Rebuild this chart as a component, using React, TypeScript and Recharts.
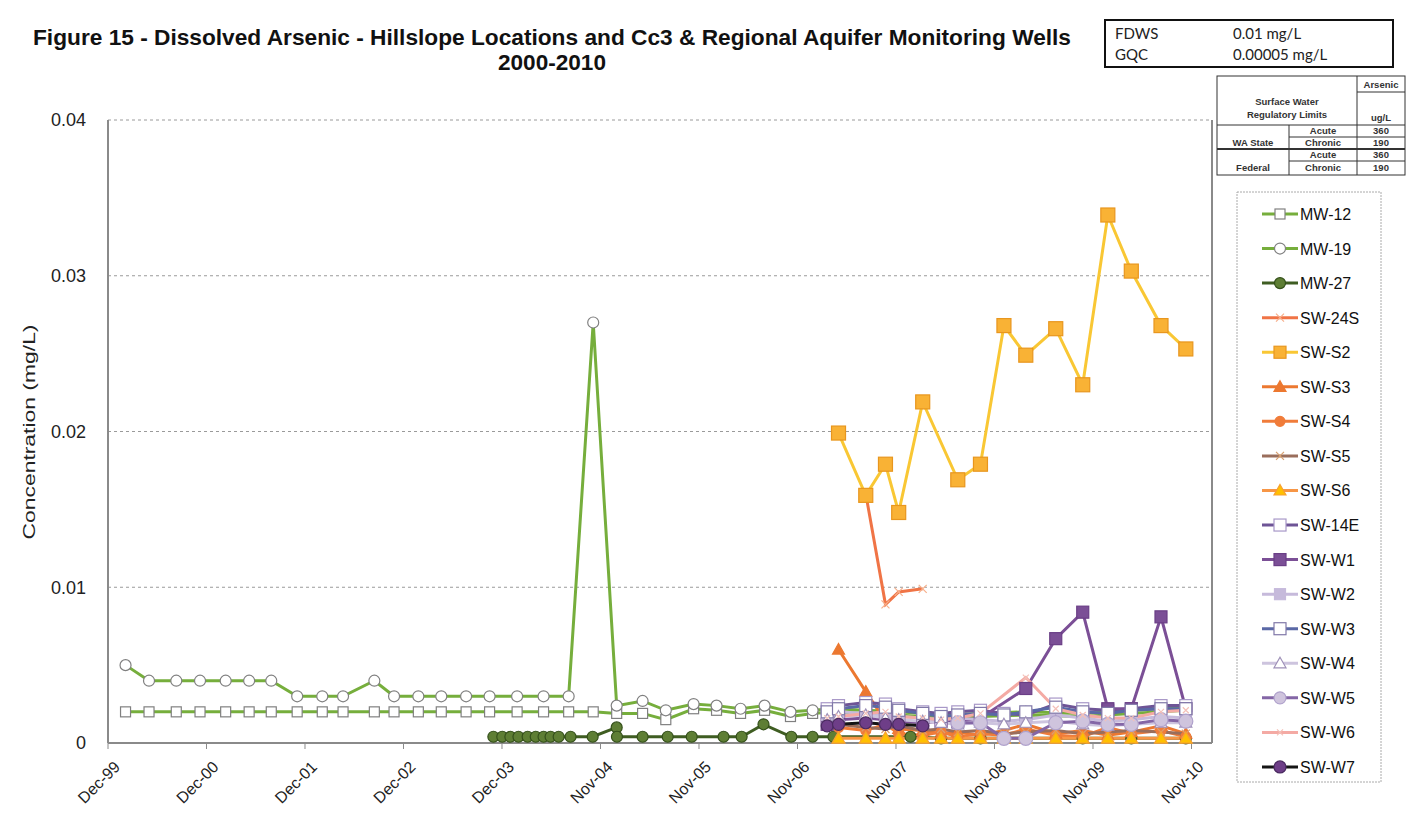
import React from "react";
import { LineChart, Line, XAxis, YAxis, CartesianGrid, ReferenceLine } from "recharts";

// date axis: day 0 = 1999-12-02, major unit 365 days
const START = Date.UTC(1999, 11, 2);
const day = (s: string) => {
  const [y, m, d] = s.split("-").map(Number);
  return (Date.UTC(y, m - 1, d) - START) / 86400000;
};

const X_LABELS = ["Dec-99", "Dec-00", "Dec-01", "Dec-02", "Dec-03", "Nov-04", "Nov-05", "Nov-06", "Nov-07", "Nov-08", "Nov-09", "Nov-10"];
const X_TICKS = X_LABELS.map((_, i) => i * 365);
const Y_TICKS = [0, 0.01, 0.02, 0.03, 0.04];

const MW_DATES = [
  "2000-02-05", "2000-05-02", "2000-08-11", "2000-11-07", "2001-02-10", "2001-05-08", "2001-07-29", "2001-11-02",
  "2002-02-03", "2002-04-21", "2002-08-15", "2002-10-27", "2003-01-25", "2003-04-20", "2003-07-21", "2003-10-16",
  "2004-01-26", "2004-05-03", "2004-08-04", "2004-11-03", "2005-01-29", "2005-05-05", "2005-07-30", "2005-11-10",
  "2006-02-03", "2006-05-03", "2006-07-31", "2006-11-04", "2007-01-25", "2007-04-12",
  "2007-08-10", "2007-12-10", "2008-05-15", "2008-10-08", "2009-03-25", "2009-10-22", "2010-04-20", "2010-11-08",
];
const MW12 = [
  0.002, 0.002, 0.002, 0.002, 0.002, 0.002, 0.002, 0.002, 0.002, 0.002, 0.002, 0.002, 0.002, 0.002, 0.002, 0.002,
  0.002, 0.002, 0.002, 0.002, 0.0019, 0.0019, 0.0015, 0.0022, 0.0021, 0.0019, 0.0021, 0.0017, 0.0019, 0.002,
  0.0019, 0.0018, 0.0016, 0.0017, 0.0018, 0.0017, 0.0019, 0.0021,
];
const MW19 = [
  0.005, 0.004, 0.004, 0.004, 0.004, 0.004, 0.004, 0.003, 0.003, 0.003, 0.004, 0.003, 0.003, 0.003, 0.003, 0.003,
  0.003, 0.003, 0.003, 0.027, 0.0024, 0.0027, 0.0021, 0.0025, 0.0024, 0.0022, 0.0024, 0.002, 0.0021, 0.0022,
  0.0021, 0.002, 0.0018, 0.0019, 0.002, 0.0019, 0.0021, 0.0023,
];

const MW27_DATES = [
  "2003-10-30", "2003-12-02", "2004-01-01", "2004-01-31", "2004-03-05", "2004-04-04", "2004-05-03", "2004-05-29",
  "2004-06-28", "2004-08-11", "2004-11-01", "2005-01-29", "2005-01-30", "2005-05-05", "2005-08-06", "2005-11-03",
  "2006-03-01", "2006-05-07", "2006-07-27", "2006-11-07", "2007-01-25", "2007-04-12",
  "2008-01-23", "2008-05-15", "2008-10-08", "2009-03-25", "2009-10-22", "2010-04-20", "2010-11-08",
];
const MW27 = [
  0.0004, 0.0004, 0.0004, 0.0004, 0.0004, 0.0004, 0.0004, 0.0004, 0.0004, 0.0004, 0.0004, 0.001, 0.0004, 0.0004,
  0.0004, 0.0004, 0.0004, 0.0004, 0.0012, 0.0004, 0.0004, 0.0004,
  0.0004, 0.0003, 0.0003, 0.0003, 0.0003, 0.0003, 0.0003,
];

const SW_DATES = [
  "2007-03-20", "2007-05-01", "2007-08-10", "2007-10-22", "2007-12-10", "2008-03-08", "2008-05-15", "2008-07-16",
  "2008-10-08", "2009-01-03", "2009-03-25", "2009-07-14", "2009-10-22", "2010-01-23", "2010-04-20", "2010-08-08",
  "2010-11-08",
];
const SW_24S = [null, null, 0.016, 0.0089, 0.0097, 0.0099, null, null, null, null, null, null, null, null, null, null, null];
const SW_S2 = [null, 0.0199, 0.0159, 0.0179, 0.0148, 0.0219, null, 0.0169, 0.0179, 0.0268, 0.0249, 0.0266, 0.023, 0.0339, 0.0303, 0.0268, 0.0253];
const SW_S3 = [null, 0.006, 0.0033, 0.0014, 0.0009, 0.0008, 0.0006, 0.0007, 0.0005, 0.0008, 0.0012, 0.0006, 0.0008, 0.0005, 0.0007, 0.0011, 0.0006];
const SW_S4 = [null, 0.001, 0.0008, 0.0012, 0.0006, 0.0005, 0.0007, 0.0004, 0.0006, 0.0005, 0.0009, 0.0005, 0.0004, 0.001, 0.0006, 0.0008, 0.0004];
const SW_S5 = [null, 0.0012, 0.001, 0.0009, 0.0011, 0.0008, 0.0009, 0.0007, 0.0008, 0.0006, 0.0007, 0.0008, 0.0006, 0.0007, 0.0008, 0.0007, 0.0006];
const SW_S6 = [null, 0.0003, 0.0003, 0.0003, 0.0003, 0.0003, 0.0003, 0.0003, 0.0003, 0.0003, 0.0003, 0.0003, 0.0003, 0.0003, 0.0003, 0.0003, 0.0003];
const SW_14E = [0.0022, 0.0024, 0.0026, 0.0025, 0.0022, 0.002, 0.0019, 0.002, 0.0021, 0.0019, 0.0018, 0.0025, 0.0022, 0.0021, 0.0022, 0.0024, 0.0024];
const SW_W1 = [0.0012, 0.0015, 0.0016, 0.0015, 0.0014, 0.0013, 0.0014, 0.0014, 0.0016, null, 0.0035, 0.0067, 0.0084, 0.0022, 0.0022, 0.0081, 0.0022];
const SW_W2 = [0.0018, 0.002, 0.0019, 0.0018, 0.0017, 0.0016, 0.0015, 0.0016, 0.0015, 0.0014, 0.0015, 0.0018, 0.0016, 0.0014, 0.0015, 0.0017, 0.0016];
const SW_W3 = [0.002, 0.0022, 0.0024, 0.0023, 0.0021, 0.0019, 0.0017, 0.0018, 0.0019, 0.0018, 0.002, 0.0023, 0.002, 0.0019, 0.0021, 0.0022, 0.0022];
const SW_W4 = [0.0015, 0.0017, 0.0018, 0.0016, 0.0015, 0.0014, 0.0013, 0.0012, 0.0013, 0.0012, 0.0013, 0.0014, 0.0012, 0.0011, 0.0012, 0.0013, 0.0013];
const SW_W5 = [null, null, null, null, null, null, null, 0.0013, 0.0013, 0.0003, 0.0003, 0.0013, 0.0014, 0.0012, 0.0012, 0.0015, 0.0014];
const SW_W6 = [0.0016, 0.0017, 0.0019, 0.002, 0.0017, 0.0016, 0.0015, 0.0016, 0.0019, null, 0.0042, 0.0022, 0.0018, 0.0016, 0.0016, 0.002, 0.0021];
const SW_W7 = [0.0011, 0.0012, 0.0013, 0.0012, 0.0012, 0.0011, null, null, null, null, null, null, null, null, null, null, null];

type Shape = "square" | "circle" | "triangle" | "x" | "none";

const SERIES = [
  { name: "MW-12", dates: MW_DATES, values: MW12, color: "#76ae3c", shape: "square", size: 10, fill: "#ffffff", stroke: "#808080" },
  { name: "MW-19", dates: MW_DATES, values: MW19, color: "#76ae3c", shape: "circle", size: 11, fill: "#ffffff", stroke: "#808080" },
  { name: "MW-27", dates: MW27_DATES, values: MW27, color: "#3f5d22", shape: "circle", size: 11, fill: "#5e7e34", stroke: "#34501a" },
  { name: "SW-24S", dates: SW_DATES, values: SW_24S, color: "#f07446", shape: "x", size: 8, fill: "none", stroke: "#f7b08c" },
  { name: "SW-S2", dates: SW_DATES, values: SW_S2, color: "#f9c734", shape: "square", size: 14, fill: "#f9b235", stroke: "#e8961e" },
  { name: "SW-S3", dates: SW_DATES, values: SW_S3, color: "#ec7830", shape: "triangle", size: 12, fill: "#ec7830", stroke: "#ec7830" },
  { name: "SW-S4", dates: SW_DATES, values: SW_S4, color: "#f07c3a", shape: "circle", size: 10, fill: "#f07c3a", stroke: "#f07c3a" },
  { name: "SW-S5", dates: SW_DATES, values: SW_S5, color: "#9a6e5c", shape: "x", size: 8, fill: "none", stroke: "#d8a070" },
  { name: "SW-S6", dates: SW_DATES, values: SW_S6, color: "#f79646", shape: "triangle", size: 13, fill: "#ffc000", stroke: "#f7a030" },
  { name: "SW-14E", dates: SW_DATES, values: SW_14E, color: "#6e5496", shape: "square", size: 12, fill: "#ffffff", stroke: "#a898c8" },
  { name: "SW-W1", dates: SW_DATES, values: SW_W1, color: "#7b4f96", shape: "square", size: 12, fill: "#7b4f96", stroke: "#6a3e86" },
  { name: "SW-W2", dates: SW_DATES, values: SW_W2, color: "#c6badb", shape: "square", size: 11, fill: "#c6badb", stroke: "#c6badb" },
  { name: "SW-W3", dates: SW_DATES, values: SW_W3, color: "#5a68a6", shape: "square", size: 12, fill: "#ffffff", stroke: "#8078a8" },
  { name: "SW-W4", dates: SW_DATES, values: SW_W4, color: "#cdc4de", shape: "triangle", size: 12, fill: "#ffffff", stroke: "#9e90b8" },
  { name: "SW-W5", dates: SW_DATES, values: SW_W5, color: "#8466a6", shape: "circle", size: 14, fill: "#cfc4dd", stroke: "#b0a2cc" },
  { name: "SW-W6", dates: SW_DATES, values: SW_W6, color: "#f4aaa4", shape: "x", size: 6, fill: "none", stroke: "#f4c0b8" },
  { name: "SW-W7", dates: SW_DATES, values: SW_W7, color: "#151515", shape: "circle", size: 12, fill: "#6e3e88", stroke: "#4a2a60" },
];

function Marker({ cx, cy, shape, size, fill, stroke }: { cx: number; cy: number; shape: Shape; size: number; fill: string; stroke: string }) {
  const r = size / 2;
  if (shape === "square") return <rect x={cx - r} y={cy - r} width={size} height={size} fill={fill} stroke={stroke} strokeWidth={1.2} />;
  if (shape === "circle") return <circle cx={cx} cy={cy} r={r} fill={fill} stroke={stroke} strokeWidth={1.2} />;
  if (shape === "triangle")
    return <polygon points={`${cx},${cy - r} ${cx + r},${cy + r * 0.75} ${cx - r},${cy + r * 0.75}`} fill={fill} stroke={stroke} strokeWidth={1.2} />;
  if (shape === "x")
    return <path d={`M${cx - r},${cy - r}L${cx + r},${cy + r}M${cx - r},${cy + r}L${cx + r},${cy - r}`} stroke={stroke} strokeWidth={1.2} fill="none" />;
  return null;
}

const XTick = (props: any) => {
  const { x, y, payload } = props;
  const label = X_LABELS[Math.round(payload.value / 365)];
  const tx = x + 13;
  const ty = y + 17;
  return (
    <text x={tx} y={ty} transform={`rotate(-45 ${tx} ${ty})`} textAnchor="end" fontSize={16} fill="#222" fontFamily="'Liberation Sans', Arial, sans-serif">
      {label}
    </text>
  );
};

const FONT = "'Liberation Sans', Arial, sans-serif";

function Overlay() {
  const legendTop = 214;
  const step = 34.56;
  return (
    <svg width={1419} height={834} style={{ position: "absolute", left: 0, top: 0, pointerEvents: "none" }}>
      {/* title */}
      <text x={552} y={45} textAnchor="middle" fontFamily={FONT} fontWeight="bold" fontSize={22} fill="#111" textLength={1038} lengthAdjust="spacingAndGlyphs">
        Figure 15 - Dissolved Arsenic - Hillslope Locations and Cc3 &amp; Regional Aquifer Monitoring Wells
      </text>
      <text x={552} y={70} textAnchor="middle" fontFamily={FONT} fontWeight="bold" fontSize={22} fill="#111" textLength={108} lengthAdjust="spacingAndGlyphs">
        2000-2010
      </text>

      {/* standards box */}
      <rect x={1105} y={20} width={288} height={47} fill="#fff" stroke="#111" strokeWidth={2} />
      <g fontFamily="Lato, 'Open Sans', sans-serif" fontSize={15} fill="#222">
        <text x={1115} y={39}>FDWS</text>
        <text x={1233} y={39}>0.01 mg/L</text>
        <text x={1115} y={60}>GQC</text>
        <text x={1233} y={60}>0.00005 mg/L</text>
      </g>

      {/* regulatory table */}
      <g stroke="#333" strokeWidth={1} fill="none">
        <rect x={1217} y={76} width={188} height={99} />
        <line x1={1357} y1={76} x2={1357} y2={175} />
        <line x1={1357} y1={92} x2={1405} y2={92} />
        <line x1={1217} y1={125} x2={1405} y2={125} />
        <line x1={1289} y1={125} x2={1289} y2={175} />
        <line x1={1289} y1={137} x2={1405} y2={137} />
        <line x1={1217} y1={149} x2={1405} y2={149} strokeWidth={2} />
        <line x1={1289} y1={161} x2={1405} y2={161} />
      </g>
      <g fontFamily={FONT} fontWeight="bold" fontSize={9.5} fill="#333" textAnchor="middle">
        <text x={1381} y={88}>Arsenic</text>
        <text x={1287} y={105}>Surface Water</text>
        <text x={1287} y={118}>Regulatory Limits</text>
        <text x={1381} y={121}>ug/L</text>
        <text x={1323} y={134}>Acute</text>
        <text x={1381} y={134}>360</text>
        <text x={1253} y={146}>WA State</text>
        <text x={1323} y={146}>Chronic</text>
        <text x={1381} y={146}>190</text>
        <text x={1323} y={158}>Acute</text>
        <text x={1381} y={158}>360</text>
        <text x={1253} y={171}>Federal</text>
        <text x={1323} y={171}>Chronic</text>
        <text x={1381} y={171}>190</text>
      </g>

      {/* y axis title */}
      <text x={0} y={0} transform="translate(35 432) rotate(-90)" textAnchor="middle" fontFamily={FONT} fontSize={17} fill="#222" textLength={215} lengthAdjust="spacingAndGlyphs">
        Concentration (mg/L)
      </text>

      {/* legend */}
      <rect x={1237} y={192} width={144} height={590} fill="#fff" stroke="#aaa" strokeWidth={1} strokeDasharray="2 1" />
      {SERIES.map((s, i) => {
        const cy = legendTop + i * step;
        return (
          <g key={s.name}>
            <line x1={1262} y1={cy} x2={1298} y2={cy} stroke={s.color} strokeWidth={3} />
            <Marker cx={1280} cy={cy} shape={s.shape as Shape} size={Math.min(s.size, 12)} fill={s.fill} stroke={s.stroke} />
            <text x={1300} y={cy + 6} fontFamily={FONT} fontSize={16} fill="#111">
              {s.name}
            </text>
          </g>
        );
      })}
    </svg>
  );
}

export default function App() {
  return (
    <div style={{ position: "absolute", left: 0, top: 0, width: 1419, height: 834, background: "#fff" }}>
      <LineChart width={1419} height={834} margin={{ top: 120, right: 207, bottom: 11, left: 48 }}>
        <CartesianGrid vertical={false} stroke="#9a9a9a" strokeDasharray="3 3" />
        <XAxis
          type="number"
          dataKey="x"
          domain={[0, 4091]}
          ticks={X_TICKS}
          interval={0}
          allowDataOverflow
          height={80}
          axisLine={{ stroke: "#8a8a8a", strokeWidth: 2 }}
          tickLine={{ stroke: "#8a8a8a" }}
          tickSize={6}
          tick={<XTick />}
        />
        <YAxis
          type="number"
          domain={[0, 0.04]}
          ticks={Y_TICKS}
          width={60}
          axisLine={{ stroke: "#8a8a8a", strokeWidth: 2 }}
          tickLine={false}
          tickSize={0}
          tickMargin={22}
          tickFormatter={(v: number) => (v === 0 ? "0" : String(v))}
          tick={{ fontSize: 18, fill: "#222", fontFamily: FONT }}
        />
        <ReferenceLine x={4091} stroke="#8a8a8a" strokeWidth={2} />
        {SERIES.map((s) => {
          const pts = s.dates
            .map((d, i) => (s.values[i] == null ? null : { x: day(d), y: s.values[i] as number }))
            .filter(Boolean) as { x: number; y: number }[];
          return (
            <Line
              key={s.name}
              data={pts}
              dataKey="y"
              name={s.name}
              type="linear"
              stroke={s.color}
              strokeWidth={3}
              isAnimationActive={false}
              activeDot={false}
              dot={(p: any) => <Marker key={p.index} cx={p.cx} cy={p.cy} shape={s.shape as Shape} size={s.size} fill={s.fill} stroke={s.stroke} />}
            />
          );
        })}
      </LineChart>
      <Overlay />
    </div>
  );
}
